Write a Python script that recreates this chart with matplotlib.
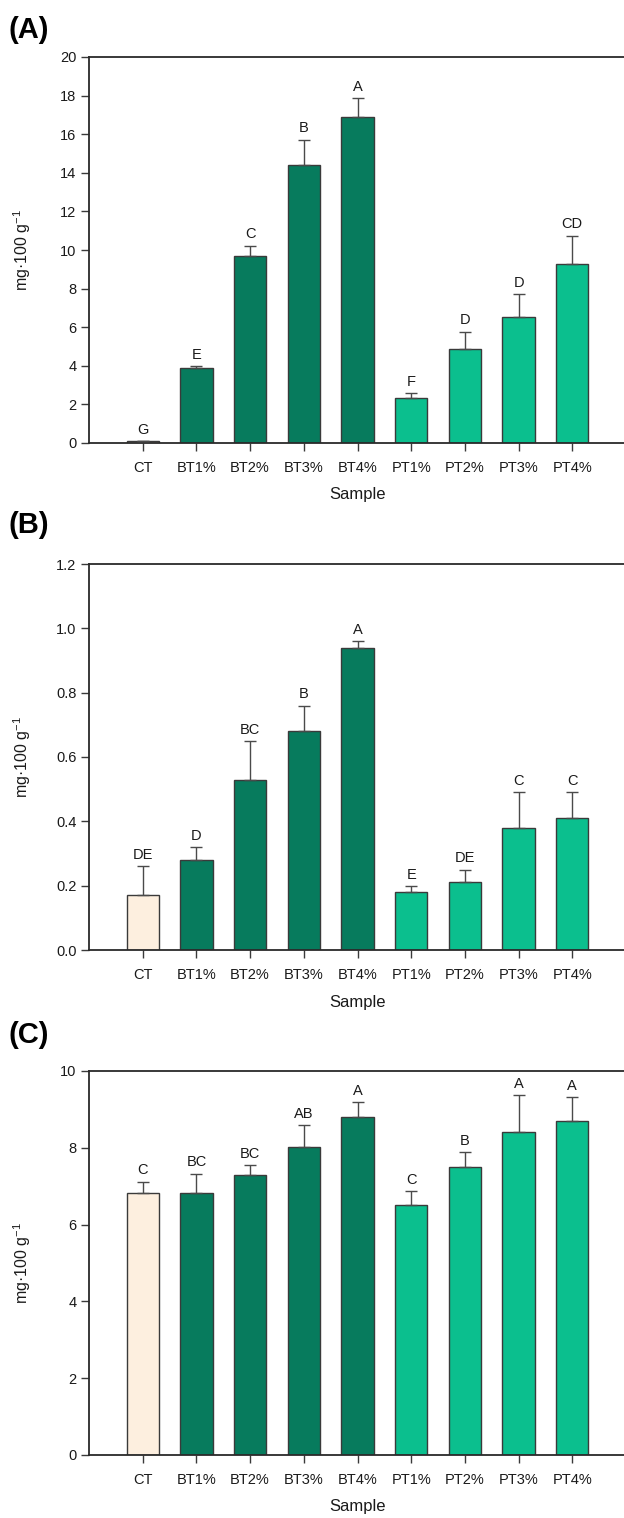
import matplotlib
matplotlib.use("Agg")
import matplotlib.pyplot as plt

plt.rcParams['font.family'] = ['Liberation Sans', 'DejaVu Sans']
plt.rcParams['mathtext.fontset'] = 'custom'
plt.rcParams['mathtext.rm'] = 'Liberation Sans'
plt.rcParams['mathtext.it'] = 'Liberation Sans'
plt.rcParams['axes.unicode_minus'] = False

samples = ["CT", "BT1%", "BT2%", "BT3%", "BT4%", "PT1%", "PT2%", "PT3%", "PT4%"]

# panel A
vals_a = [0.08, 3.9, 9.67, 14.43, 16.9, 2.35, 4.87, 6.52, 9.25]
err_a = [0.0, 0.08, 0.56, 1.29, 0.96, 0.25, 0.9, 1.21, 1.5]
let_a = ["G", "E", "C", "B", "A", "F", "D", "D", "CD"]

# panel B
vals_b = [0.17, 0.28, 0.53, 0.68, 0.94, 0.18, 0.21, 0.38, 0.41]
err_b = [0.09, 0.04, 0.12, 0.08, 0.02, 0.02, 0.04, 0.11, 0.08]
let_b = ["DE", "D", "BC", "B", "A", "E", "DE", "C", "C"]

# panel C
vals_c = [6.81, 6.81, 7.30, 8.01, 8.81, 6.50, 7.51, 8.40, 8.70]
err_c = [0.31, 0.52, 0.25, 0.58, 0.38, 0.37, 0.37, 0.97, 0.61]
let_c = ["C", "BC", "BC", "AB", "A", "C", "B", "A", "A"]

c_ct = "#fdefdf"
c_bt = "#077b5d"
c_pt = "#0bbf8e"
colors = [c_ct] + [c_bt] * 4 + [c_pt] * 4

W, H = 624, 1518
fig = plt.figure(figsize=(W / 100, H / 100), dpi=100)

panels = [
    ("(A)", vals_a, err_a, let_a, (0, 20), range(0, 21, 2), "{:.0f}", 57, 443, 30, 495),
    ("(B)", vals_b, err_b, let_b, (0, 1.2), [0, 0.2, 0.4, 0.6, 0.8, 1.0, 1.2], "{:.1f}", 564, 950, 525, 1003),
    ("(C)", vals_c, err_c, let_c, (0, 10), range(0, 11, 2), "{:.0f}", 1071, 1455, 1035, 1507),
]

x = list(range(len(samples)))
left_px = 89
right_px = 626

for tag, vals, errs, lets, ylim, yt, fmt, top, bot, tag_y, samp_y in panels:
    ax = fig.add_axes([left_px / W, 1 - bot / H, (right_px - left_px) / W, (bot - top) / H])
    ax.bar(x, vals, width=0.6, color=colors, edgecolor="#3a3a3a", linewidth=1.0, zorder=2)
    ax.errorbar(x, vals, yerr=[[0] * len(errs), errs], fmt="none", ecolor="#4a4a4a",
                elinewidth=1.0, capsize=4.5, capthick=1.0, zorder=3)
    for xi, v, e, l in zip(x, vals, errs, lets):
        ax.annotate(l, (xi, v + e), xytext=(0, 3), textcoords="offset points",
                    ha="center", va="bottom", fontsize=10.5, color="#1a1a1a")
    ax.set_xlim(-1, 9)
    ax.set_ylim(*ylim)
    ax.set_yticks(list(yt))
    ax.set_yticklabels([fmt.format(t) for t in yt])
    ax.set_xticks(x)
    ax.set_xticklabels(samples)
    ax.tick_params(axis="both", direction="out", length=6, width=1.0, color="#3a3a3a",
                   labelsize=10.5, labelcolor="#1a1a1a")
    ax.tick_params(axis="x", pad=7)
    ax.tick_params(axis="y", pad=3)
    ax.spines["right"].set_visible(False)
    for s in ["left", "bottom", "top"]:
        ax.spines[s].set_linewidth(1.3)
        ax.spines[s].set_color("#2a2a2a")
    ax.set_ylabel("mg·100 g$^{-1}$", fontsize=11.5, color="#1a1a1a")
    ax.yaxis.set_label_coords((33 - left_px) / (right_px - left_px), 0.5)
    fig.text(8 / W, 1 - tag_y / H, tag, fontsize=21, fontweight="bold", va="center", ha="left")
    fig.text(358 / W, 1 - samp_y / H, "Sample", fontsize=12, va="center", ha="center",
             color="#1a1a1a")

fig.savefig("out.png", dpi=100)
